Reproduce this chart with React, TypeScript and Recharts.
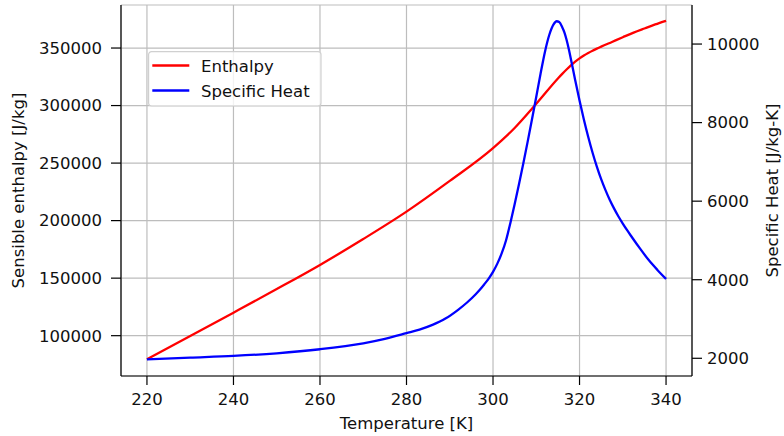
import React from 'react';
import { LineChart, Line, XAxis, YAxis, CartesianGrid, Legend, Label } from 'recharts';

// ---- data ----
const enthalpyTemps = [220, 230, 240, 250, 260, 270, 280, 290, 300, 305, 310, 315, 316, 317, 318, 319, 320, 321, 322, 323, 324, 325, 327.5, 330, 332.5, 335, 337.5, 340];
const enthalpyValues = [79500, 99700, 120000, 140500, 161500, 184000, 207800, 234500, 263000, 280500, 301500, 323500, 327500, 331300, 334900, 338100, 341000, 343500, 345700, 347700, 349500, 351200, 355300, 359400, 363400, 367000, 370500, 373700];

const cpTemps = [220, 230, 240, 250, 260, 270, 275, 280, 283, 286, 289, 292, 294, 296, 297, 298, 299, 300, 301, 302, 303, 304, 305, 306, 307, 308, 309, 310, 311, 312, 313, 314, 314.7, 315.3, 316, 316.5, 317, 317.5, 318, 319, 320, 321, 322, 323, 324, 325, 326, 327, 328, 329, 330, 331, 332, 334, 336, 338, 340];
const cpValues = [1970, 2015, 2060, 2127, 2230, 2382, 2495, 2640, 2730, 2850, 3010, 3240, 3420, 3630, 3750, 3885, 4030, 4200, 4410, 4670, 5000, 5440, 5920, 6430, 6960, 7510, 8080, 8660, 9250, 9800, 10230, 10500, 10580, 10560, 10430, 10300, 10110, 9880, 9620, 9080, 8560, 8080, 7640, 7240, 6880, 6560, 6280, 6030, 5810, 5610, 5430, 5260, 5100, 4790, 4500, 4250, 4020];

const seriesNames = ['Enthalpy', 'Specific Heat'];
const seriesColors = ['#ff0000', '#0000ff'];

const temperatureTicks = [220, 240, 260, 280, 300, 320, 340];
const enthalpyTicks = [100000, 150000, 200000, 250000, 300000, 350000];
const cpTicks = [2000, 4000, 6000, 8000, 10000];

const xLabel = 'Temperature [K]';
const yLeftLabel = 'Sensible enthalpy [J/kg]';
const yRightLabel = 'Specific Heat [J/kg-K]';

const xDomain: [number, number] = [214, 346];
const enthalpyDomain: [number, number] = [64955, 387400];
const cpDomain: [number, number] = [1549, 10994];

const enthalpyData = enthalpyTemps.map((T, i) => ({ T, h: enthalpyValues[i] }));
const cpData = cpTemps.map((T, i) => ({ T, cp: cpValues[i] }));

const FONT = 'DejaVu Sans';
const FS = 16.5;
const tickStyle = { fill: '#111', fontSize: FS, fontFamily: FONT };
const axisStroke = { stroke: '#000', strokeWidth: 1.2 };

const LeftLabel = (props: any) => {
  const vb = props.viewBox;
  const cx = vb.x + 12.5;
  const cy = vb.y + vb.height / 2;
  return (
    <text x={cx} y={cy} transform={`rotate(-90, ${cx}, ${cy})`} textAnchor="middle" fill="#111" fontSize={FS} fontFamily={FONT}>
      {yLeftLabel}
    </text>
  );
};

const RightLabel = (props: any) => {
  const vb = props.viewBox;
  const cx = vb.x + 86;
  const cy = vb.y + vb.height / 2;
  return (
    <text x={cx} y={cy} transform={`rotate(-90, ${cx}, ${cy})`} textAnchor="middle" fill="#111" fontSize={FS} fontFamily={FONT}>
      {yRightLabel}
    </text>
  );
};

const BottomLabel = (props: any) => {
  const vb = props.viewBox;
  const cx = vb.x + vb.width / 2;
  return (
    <text x={cx} y={vb.y + 52.5} textAnchor="middle" fill="#111" fontSize={FS} fontFamily={FONT}>
      {xLabel}
    </text>
  );
};

const LegendBox = (props: any) => {
  const payload = props.payload || [];
  return (
    <svg width={174} height={56} style={{ display: 'block' }}>
      <rect x={0.6} y={0.6} width={172.4} height={54.4} rx={3} ry={3} fill="rgba(255,255,255,0.8)" stroke="#d0d0d0" strokeWidth={1.2} />
      {payload.map((p: any, i: number) => (
        <g key={i}>
          <line x1={4.3} x2={41.3} y1={14.5 + i * 25} y2={14.5 + i * 25} stroke={p.color} strokeWidth={2.4} />
          <text x={53} y={21.2 + i * 25} fill="#111" fontSize={FS} fontFamily={FONT}>
            {p.value}
          </text>
        </g>
      ))}
    </svg>
  );
};

export default function App() {
  return (
    <div style={{ position: 'absolute', left: 0, top: 0, width: 784, height: 436, background: '#fff', fontFamily: FONT }}>
      <LineChart width={784} height={436} margin={{ top: 5, right: 12, bottom: 15, left: 11 }}>
        <CartesianGrid yAxisId="left" stroke="#bdbdbd" strokeWidth={1.2} />
        <XAxis
          dataKey="T"
          type="number"
          domain={xDomain}
          ticks={temperatureTicks}
          interval={0}
          allowDataOverflow
          height={45}
          tickSize={9}
          tickMargin={8}
          tick={tickStyle}
          tickLine={axisStroke}
          axisLine={axisStroke}
        >
          <Label content={BottomLabel} />
        </XAxis>
        <XAxis
          xAxisId="top"
          orientation="top"
          type="number"
          domain={xDomain}
          height={0}
          tick={false}
          tickLine={false}
          axisLine={axisStroke}
        />
        <YAxis
          yAxisId="left"
          type="number"
          domain={enthalpyDomain}
          ticks={enthalpyTicks}
          interval={0}
          allowDataOverflow
          width={110}
          tickSize={10}
          tickMargin={9}
          tick={tickStyle}
          tickLine={axisStroke}
          axisLine={axisStroke}
        >
          <Label content={LeftLabel} />
        </YAxis>
        <YAxis
          yAxisId="right"
          orientation="right"
          type="number"
          domain={cpDomain}
          ticks={cpTicks}
          interval={0}
          allowDataOverflow
          width={80}
          tickSize={10}
          tickMargin={5}
          tick={tickStyle}
          tickLine={axisStroke}
          axisLine={axisStroke}
        >
          <Label content={RightLabel} />
        </YAxis>
        <Legend
          layout="vertical"
          align="center"
          verticalAlign="middle"
          content={LegendBox}
          wrapperStyle={{ left: 148, top: 50.5, width: 174, height: 56 }}
        />
        <Line
          yAxisId="left"
          data={enthalpyData}
          dataKey="h"
          name={seriesNames[0]}
          stroke={seriesColors[0]}
          strokeWidth={2.3}
          type="monotone"
          dot={false}
          isAnimationActive={false}
        />
        <Line
          yAxisId="right"
          data={cpData}
          dataKey="cp"
          name={seriesNames[1]}
          stroke={seriesColors[1]}
          strokeWidth={2.3}
          type="monotone"
          dot={false}
          isAnimationActive={false}
        />
      </LineChart>
    </div>
  );
}
